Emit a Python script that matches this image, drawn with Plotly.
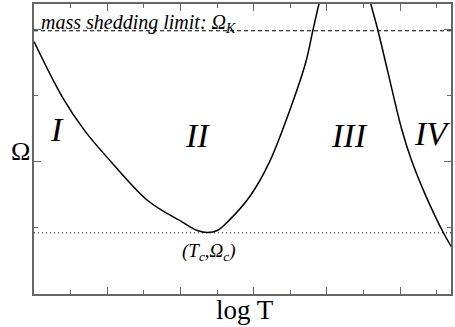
import plotly.graph_objects as go

# branch I/II (left curve) in axis units
left_logT = [0.0, 0.395, 0.694, 1.075, 1.565, 2.027, 2.231, 2.367, 2.503, 2.667, 2.939, 3.211, 3.537, 3.714, 3.810, 3.891, 3.93]
left_omega = [3.816, 2.961, 2.466, 1.971, 1.402, 1.087, 0.960, 0.930, 0.960, 1.117, 1.462, 1.987, 2.916, 3.516, 3.996, 4.385, 4.55]

# branch III/IV (right curve)
right_logT = [4.558, 4.599, 4.694, 4.830, 5.020, 5.156, 5.347, 5.592, 5.701]
right_omega = [4.55, 4.385, 3.996, 3.366, 2.496, 2.017, 1.492, 0.922, 0.712]

omega_kepler = 3.98
omega_c = 0.925

x_range = [0, 5.694]
y_range = [0, 4.385]

region_labels = ["I", "II", "III", "IV"]

serif = "Liberation Serif"

fig = go.Figure()
fig.add_trace(go.Scatter(x=left_logT, y=left_omega, mode="lines",
                         line=dict(color="black", width=1.5, shape="spline", smoothing=1.0)))
fig.add_trace(go.Scatter(x=right_logT, y=right_omega, mode="lines",
                         line=dict(color="black", width=1.5, shape="spline", smoothing=1.0)))
fig.add_trace(go.Scatter(x=x_range, y=[omega_kepler, omega_kepler], mode="lines",
                         line=dict(color="black", width=1, dash="4px,3px")))
fig.add_trace(go.Scatter(x=x_range, y=[omega_c, omega_c], mode="lines",
                         line=dict(color="black", width=1, dash="1px,3px")))

axis_common = dict(
    showline=True, linecolor="#666", linewidth=1.5, mirror="ticks",
    ticks="inside", ticklen=7, tickcolor="#666", tickwidth=1,
    showticklabels=False, showgrid=False, zeroline=False,
)
fig.update_xaxes(range=x_range, tick0=0, dtick=1,
                 minor=dict(ticks="inside", ticklen=4, dtick=0.5, tickcolor="#666", showgrid=False),
                 **axis_common)
fig.update_yaxes(range=y_range, tick0=0, dtick=2,
                 minor=dict(ticks="inside", ticklen=4, dtick=1, tickcolor="#666", showgrid=False),
                 **axis_common)

label_x = [0.055, 0.392, 0.756, 0.955]
label_y = [0.567, 0.546, 0.546, 0.553]
for txt, lx, ly in zip(region_labels, label_x, label_y):
    fig.add_annotation(text=f"<i>{txt}</i>", xref="paper", yref="paper", x=lx, y=ly,
                       xanchor="center", yanchor="middle", showarrow=False,
                       font=dict(family=serif, size=34, color="black"))

fig.add_annotation(text="<i>mass shedding limit: Ω<sub>K</sub></i>", xref="paper", yref="paper",
                   x=0.012, y=0.883, xanchor="left", yanchor="bottom", showarrow=False,
                   font=dict(family=serif, size=20, color="black"))
fig.add_annotation(text="<i>(T<sub>c</sub>,Ω<sub>c</sub>)</i>", xref="paper", yref="paper",
                   x=0.42, y=0.145, xanchor="center", yanchor="middle", showarrow=False,
                   font=dict(family=serif, size=19, color="black"))
fig.add_annotation(text="Ω", xref="paper", yref="paper", x=-0.0335, y=0.491,
                   xanchor="center", yanchor="middle", showarrow=False,
                   font=dict(family=serif, size=26, color="black"))
fig.add_annotation(text="log T", xref="paper", yref="paper", x=0.505, y=0.003,
                   xanchor="center", yanchor="top", showarrow=False,
                   font=dict(family=serif, size=27, color="black"))

fig.update_layout(
    width=455, height=327,
    margin=dict(l=34, r=3, t=2, b=33),
    paper_bgcolor="white", plot_bgcolor="white",
    showlegend=False,
)
# drop the page's default body margin so the figure sits at the window corner
fig.write_html("out.html", config={"displayModeBar": False},
               post_script="document.body.style.margin='0';document.body.style.overflow='hidden';")
